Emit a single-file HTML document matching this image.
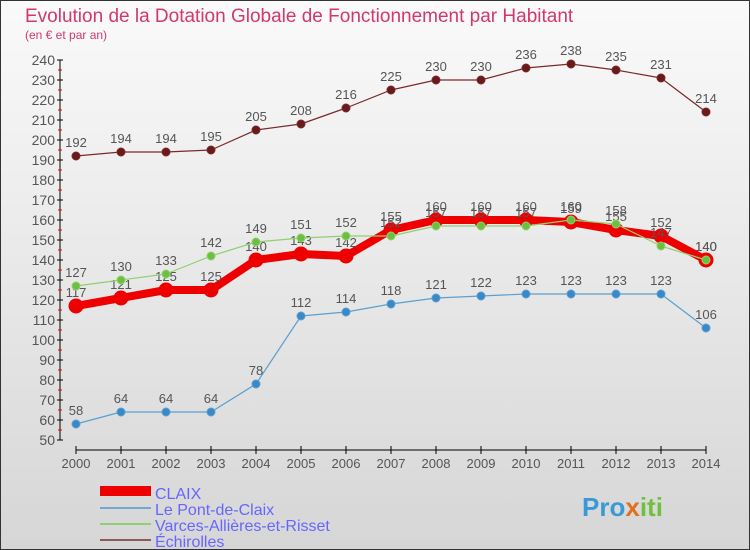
<!DOCTYPE html>
<html><head><meta charset="utf-8"><style>
body{margin:0}
#c{width:750px;height:550px;position:relative;overflow:hidden;background:linear-gradient(#fafafa,#d6d6d6);font-family:"Liberation Sans",sans-serif}
</style></head><body>
<div id="c">
<svg id="s" width="750" height="550" xmlns="http://www.w3.org/2000/svg">
<rect x="0.5" y="0.5" width="749" height="549" fill="none" stroke="#333"/>
<text x="25" y="22" font-size="19" fill="#d2386b">Evolution de la Dotation Globale de Fonctionnement par Habitant</text>
<text x="25" y="39" font-size="12" fill="#d2386b">(en € et par an)</text>
<g id="g"></g>
<g>
<rect x="100" y="486" width="51" height="10" fill="#e00"/>
<line x1="100" y1="508" x2="151" y2="508" stroke="#6fa8d0" stroke-width="2"/>
<line x1="100" y1="524" x2="151" y2="524" stroke="#8fd070" stroke-width="2"/>
<line x1="100" y1="540" x2="151" y2="540" stroke="#8b5a5a" stroke-width="2"/>
<text x="155" y="499" font-size="16" fill="#6666ff">CLAIX</text>
<text x="155" y="515" font-size="16" fill="#6666ff">Le Pont-de-Claix</text>
<text x="155" y="531" font-size="16" fill="#6666ff">Varces-Allières-et-Risset</text>
<text x="155" y="547" font-size="16" fill="#6666ff">Échirolles</text>
</g>
<text x="582" y="516" font-size="26" font-weight="bold" fill="#3a9ad8">Pro<tspan fill="#e07020">x</tspan><tspan fill="#70c040">iti</tspan></text>
</svg></div>
<script>
const years=[2000,2001,2002,2003,2004,2005,2006,2007,2008,2009,2010,2011,2012,2013,2014];
const claix=[117,121,125,125,140,143,142,155,160,160,160,159,155,152,140];
const pont=[58,64,64,64,78,112,114,118,121,122,123,123,123,123,106];
const varces=[127,130,133,142,149,151,152,152,157,157,157,160,158,147,140];
const echirolles=[192,194,194,195,205,208,216,225,230,230,236,238,235,231,214];
const yTicks=[50,60,70,80,90,100,110,120,130,140,150,160,170,180,190,200,210,220,230,240];
const NS='http://www.w3.org/2000/svg';
const g=document.getElementById('g');
const X=i=>76+i*45, Y=v=>440-(v-50)*2;
function mk(t,a){const e=document.createElementNS(NS,t);for(const k in a)e.setAttribute(k,a[k]);g.appendChild(e);return e;}
let e=mk('line',{x1:60,y1:Y(240),x2:60,y2:Y(50),stroke:'#000'});


e=mk('line',{x1:X(0),y1:450,x2:X(14),y2:450,stroke:'#000'});


yTicks.forEach(v=>{
 mk('line',{x1:57,y1:Y(v),x2:63,y2:Y(v),stroke:'#000'});
 if(v<240) mk('line',{x1:58,y1:Y(v+5),x2:62,y2:Y(v+5),stroke:'#e00'});
 const t=mk('text',{x:55,y:Y(v)+5,'font-size':14,fill:'#555','text-anchor':'end'});t.textContent=v;
 
 
});
years.forEach((yr,i)=>{
 mk('line',{x1:X(i),y1:446,x2:X(i),y2:454,stroke:'#000'});
 const t=mk('text',{x:X(i),y:468,'font-size':13,fill:'#555','text-anchor':'middle'});t.textContent=yr;
 
 
});
function series(arr,col,dot,w,r,name){
 const p=mk('polyline',{points:arr.map((v,i)=>X(i)+','+Y(v)).join(' '),fill:'none',stroke:col,'stroke-width':w,'stroke-linejoin':'round'});
 
 
 arr.forEach((v,i)=>{
  const c=mk('circle',{cx:X(i),cy:Y(v),r:r,fill:dot,stroke:col,'stroke-width':1});
  
  
  const t=mk('text',{x:X(i),y:Y(v)-9,'font-size':13,fill:'#555','text-anchor':'middle'});t.textContent=v;
  
  
 });
}
series(echirolles,'#7a2a2a','#6a1a1a',1.2,4,'echirolles');
series(pont,'#5a9fd0','#3a88c8',1.2,4,'pont-de-claix');
series(claix,'#e00','#e00',8,7,'claix');
series(varces,'#8fd070','#6cc040',1.2,4,'varces');
</script>
</body></html>
